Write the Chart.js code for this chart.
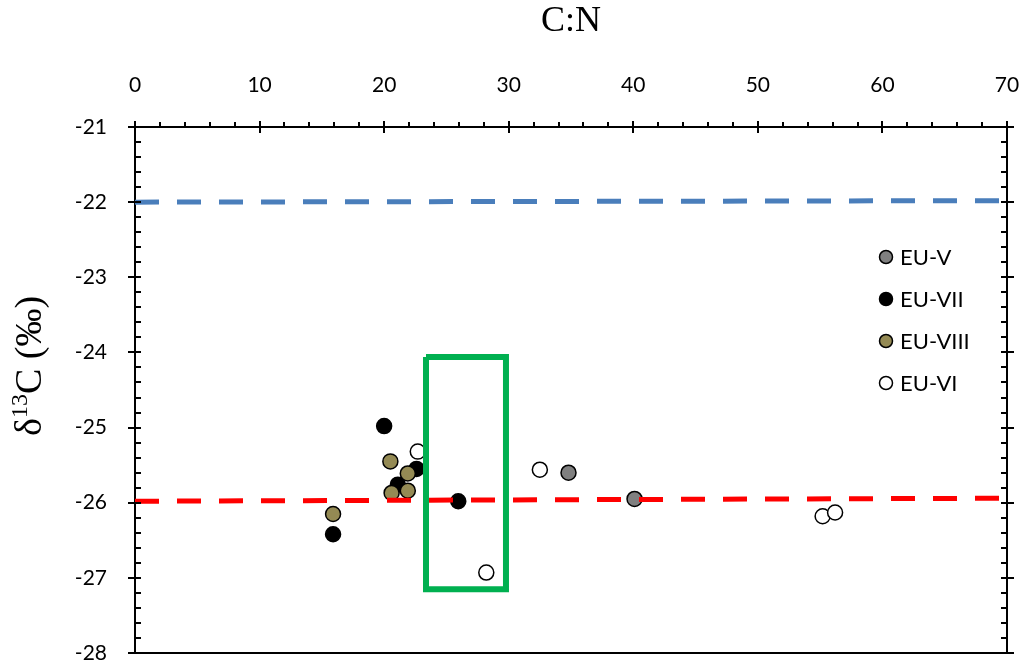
<!DOCTYPE html>
<html>
<head>
<meta charset="utf-8">
<script src="https://cdn.jsdelivr.net/npm/chart.js@4"></script>
<style>
  html, body { margin: 0; padding: 0; background: #fff; }
  #wrap { width: 1025px; height: 664px; }
</style>
</head>
<body>
<div id="wrap"><canvas id="cnChart"></canvas></div>
<script>
// Datos (C:N vs d13C)
var euV_x = [34.8, 40.1];
var euV_y = [-25.60, -25.95];
var euVII_x = [20.0, 22.6, 21.1, 15.9, 25.95];
var euVII_y = [-24.98, -25.55, -25.76, -26.42, -25.98];
var euVIII_x = [20.5, 21.9, 20.6, 21.9, 15.9];
var euVIII_y = [-25.45, -25.61, -25.87, -25.84, -26.15];
var euVI_x = [22.7, 32.5, 28.2, 55.2, 56.2];
var euVI_y = [-25.32, -25.56, -26.93, -26.18, -26.13];

// Líneas de referencia y recuadro
var blueLine_x = [0, 70];
var blueLine_y = [-22.0, -21.98];
var redLine_x = [0, 70];
var redLine_y = [-25.98, -25.94];
var box_x = [23.36, 29.78, 29.78, 23.36, 23.36];
var box_y = [-24.06, -24.06, -27.15, -27.15, -24.06];

var xTicks = [0, 10, 20, 30, 40, 50, 60, 70];
var yTicks = [-28, -27, -26, -25, -24, -23, -22, -21];

function pts(xs, ys) {
    return xs.map(function (x, i) { return { x: x, y: ys[i] }; });
}

var tickFont = { family: 'Lato, sans-serif', size: 21 };

// Ejes con marcas cruzadas, marco y título del eje Y
var axisPlugin = {
    id: 'axisPlugin',
    afterDraw: function (chart) {
        var ctx = chart.ctx;
        var a = chart.chartArea;
        var sx = chart.scales.x, sy = chart.scales.y;
        ctx.save();
        ctx.strokeStyle = '#000';
        ctx.lineWidth = 2;
        ctx.beginPath();
        ctx.moveTo(a.left, a.bottom); ctx.lineTo(a.right, a.bottom);
        ctx.moveTo(a.right, a.top); ctx.lineTo(a.right, a.bottom);
        for (var i = 0; i <= 35; i++) {
            var v = sx.min + i * 2;
            var px = Math.round(sx.getPixelForValue(v));
            if (i % 5 === 0) { ctx.moveTo(px, a.top - 6); ctx.lineTo(px, a.top + 6); }
            else { ctx.moveTo(px, a.top - 5); ctx.lineTo(px, a.top); }
        }
        for (var j = 0; j <= 35; j++) {
            var yv = sy.min + j * 0.2;
            var py = Math.round(sy.getPixelForValue(yv));
            if (j % 5 === 0) {
                ctx.moveTo(a.left - 7, py); ctx.lineTo(a.left + 6, py);
                ctx.moveTo(a.right - 6, py); ctx.lineTo(a.right + 7, py);
            } else {
                ctx.moveTo(a.left, py); ctx.lineTo(a.left + 6, py);
                ctx.moveTo(a.right - 6, py); ctx.lineTo(a.right, py);
            }
        }
        ctx.stroke();

        // título Y con superíndice
        ctx.translate(28, 366);
        ctx.rotate(-Math.PI / 2);
        ctx.fillStyle = '#000';
        ctx.textBaseline = 'alphabetic';
        var big = '38px "Liberation Serif", serif', small = '24px "Liberation Serif", serif';
        ctx.font = big;
        var w1 = ctx.measureText('\u03B4').width, w3 = ctx.measureText('C (\u2030)').width;
        ctx.font = small;
        var w2 = ctx.measureText('13').width;
        var x0 = -(w1 + w2 + w3) / 2, base = 13;
        ctx.font = big; ctx.fillText('\u03B4', x0, base);
        ctx.font = small; ctx.fillText('13', x0 + w1, base - 14);
        ctx.font = big; ctx.fillText('C (\u2030)', x0 + w1 + w2, base);
        ctx.restore();
    }
};

// Leyenda dentro del área del gráfico
var legendPlugin = {
    id: 'legendPlugin',
    afterDraw: function (chart) {
        var ctx = chart.ctx;
        var items = chart.data.datasets.filter(function (d) { return d.inLegend; });
        ctx.save();
        ctx.font = '22px Lato, sans-serif';
        ctx.textBaseline = 'middle';
        items.forEach(function (d, i) {
            var cy = 257 + i * 42;
            ctx.beginPath();
            ctx.arc(886, cy, 6.5, 0, Math.PI * 2);
            ctx.fillStyle = d.backgroundColor;
            ctx.fill();
            ctx.lineWidth = 1.5;
            ctx.strokeStyle = '#000';
            ctx.stroke();
            ctx.fillStyle = '#000';
            ctx.fillText(d.label, 900, cy + 1);
        });
        ctx.restore();
    }
};

function serie(label, xs, ys, color, order) {
    return {
        type: 'scatter', label: label, inLegend: true, order: order,
        data: pts(xs, ys),
        backgroundColor: color, borderColor: '#000', borderWidth: 1.5,
        pointRadius: 7.5, pointHoverRadius: 7.5
    };
}

function linea(xs, ys, color, dash, width) {
    return {
        type: 'line', label: '', order: 0,
        data: pts(xs, ys),
        borderColor: color, borderWidth: width, borderDash: dash,
        pointRadius: 0, fill: false, tension: 0
    };
}

function sinPadding(s) {
    s.paddingLeft = 0; s.paddingRight = 0; s.paddingTop = 0; s.paddingBottom = 0;
}

var ctx = document.getElementById('cnChart');
new Chart(ctx.getContext('2d'), {
    data: {
        datasets: [
            linea(box_x, box_y, '#00b050', [], 6),
            linea(blueLine_x, blueLine_y, '#4a7ebb', [24, 18], 5),
            linea(redLine_x, redLine_y, '#ff0000', [24, 18], 5),
            serie('EU-V', euV_x, euV_y, '#808080', 2),
            serie('EU-VII', euVII_x, euVII_y, '#000000', 2),
            serie('EU-VIII', euVIII_x, euVIII_y, '#948a54', 1),
            serie('EU-VI', euVI_x, euVI_y, '#ffffff', 3)
        ]
    },
    options: {
        responsive: true,
        maintainAspectRatio: false,
        animation: false,
        layout: { padding: { top: 0, right: 18, bottom: 11, left: 0 } },
        plugins: {
            legend: { display: false },
            tooltip: { enabled: false }
        },
        scales: {
            x: {
                type: 'linear', position: 'top', min: 0, max: 70,
                afterFit: function (s) { s.height = 127; sinPadding(s); },
                afterBuildTicks: function (s) { s.ticks = xTicks.map(function (v) { return { value: v }; }); },
                grid: { display: false },
                border: { display: true, color: '#000', width: 2 },
                ticks: { color: '#000', font: tickFont, padding: 21, maxRotation: 0 },
                title: {
                    display: true, text: 'C:N', color: '#000',
                    font: { family: '"Liberation Serif", serif', size: 36 },
                    padding: { top: 0, bottom: 0 }
                }
            },
            y: {
                type: 'linear', position: 'left', min: -28, max: -21,
                afterFit: function (s) { s.width = 135; sinPadding(s); },
                afterBuildTicks: function (s) { s.ticks = yTicks.map(function (v) { return { value: v }; }); },
                grid: { display: false },
                border: { display: true, color: '#000', width: 2 },
                ticks: { color: '#000', font: tickFont, padding: 20 }
            }
        }
    },
    plugins: [axisPlugin, legendPlugin]
});
</script>
</body>
</html>
